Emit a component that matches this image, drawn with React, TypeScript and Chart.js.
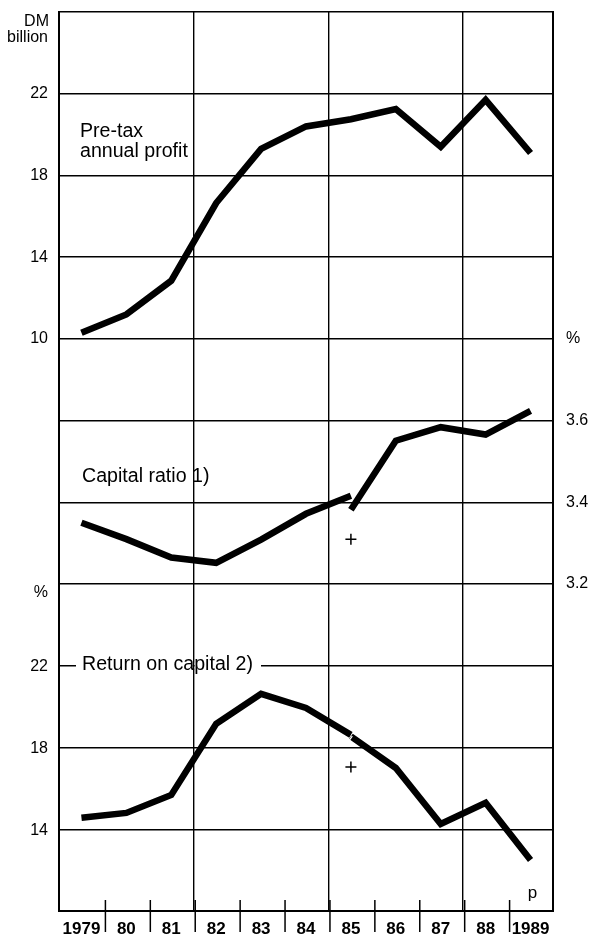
import React, { useEffect, useRef } from "react";
import { Chart, registerables } from "chart.js";

Chart.register(...registerables);

const FONT = '"Liberation Sans", Arial, Helvetica, sans-serif';

// ---- data ----
const years = ["1979", "80", "81", "82", "83", "84", "85", "86", "87", "88", "1989"];
const preTaxProfit = [10.3, 11.2, 12.85, 16.65, 19.3, 20.4, 20.75, 21.25, 19.4, 21.7, 19.1];
const capitalRatioOld = [3.35, 3.31, 3.265, 3.252, 3.309, 3.372, 3.416]; // 1979-1985
const capitalRatioNew = [3.382, 3.551, 3.584, 3.566, 3.624]; // 1985-1989
const returnOld = [14.56, 14.8, 15.68, 19.16, 20.63, 19.94, 18.62]; // 1979-1985
const returnNew = [18.55, 17.0, 14.26, 15.3, 12.5]; // 1985-1989
const crossCapital = 3.31; // 1985, old definition
const crossReturn = 17.05; // 1985, old definition
const crossYear = "85";

const profitTicks = [10, 14, 18, 22];
const capitalTicks = [3.2, 3.4, 3.6];
const capitalUnitTick = 3.8;
const returnTicks = [14, 18, 22];
const returnUnitTick = 26;

function place(values: number[], startIndex: number): (number | null)[] {
  const out: (number | null)[] = years.map(() => null);
  values.forEach((v, i) => (out[startIndex + i] = v));
  return out;
}

function zeroPad(s: any) {
  s.paddingTop = 0;
  s.paddingBottom = 0;
  s.paddingLeft = 0;
  s.paddingRight = 0;
}

export default function App() {
  const ref = useRef<HTMLCanvasElement | null>(null);

  useEffect(() => {
    if (!ref.current) return;
    const crossIdx = years.indexOf(crossYear);
    const newStart = years.length - capitalRatioNew.length;
    const retNewStart = years.length - returnNew.length;

    const overlay = {
      id: "overlay",
      afterDraw(chart: any) {
        const { ctx, chartArea, scales } = chart;
        const x = scales.x;
        const yR = scales.yR;
        ctx.save();
        // bottom tick marks at every year boundary
        ctx.strokeStyle = "#000";
        ctx.lineWidth = 1.5;
        for (let i = 1; i < years.length; i++) {
          const px = (x.getPixelForValue(i - 1) + x.getPixelForValue(i)) / 2 + 1.5;
          ctx.beginPath();
          ctx.moveTo(px, chartArea.bottom - 11);
          ctx.lineTo(px, chartArea.bottom + 21);
          ctx.stroke();
        }
        // white slit in return line at 1985
        {
          const i0 = years.length - returnNew.length;
          const p0x = x.getPixelForValue(i0);
          const p0y = yR.getPixelForValue(returnNew[0]);
          const p1x = x.getPixelForValue(i0 + 1);
          const p1y = yR.getPixelForValue(returnNew[1]);
          const len = Math.hypot(p1x - p0x, p1y - p0y);
          const dx = (p1x - p0x) / len;
          const dy = (p1y - p0y) / len;
          const cx = p0x + dx * 1;
          const cy = p0y + dy * 1;
          ctx.strokeStyle = "#fff";
          ctx.lineWidth = 1.3;
          ctx.beginPath();
          ctx.moveTo(cx - dy * 5, cy + dx * 5);
          ctx.lineTo(cx + dy * 1, cy - dx * 1);
          ctx.stroke();
        }
        // white background behind "Return on capital 2)" over gridline
        const gx = (x.getPixelForValue(2) + x.getPixelForValue(3)) / 2;
        const ly = yR.getPixelForValue(22);
        ctx.fillStyle = "#fff";
        ctx.fillRect(76, ly - 3, gx - 1 - 76, 6);
        ctx.fillRect(gx + 1, ly - 3, 261 - gx - 1, 6);

        ctx.fillStyle = "#000";
        ctx.textBaseline = "alphabetic";
        ctx.textAlign = "left";
        ctx.font = `19.6px ${FONT}`;
        ctx.fillText("Pre-tax", 80, 137);
        ctx.fillText("annual profit", 80, 157);
        ctx.fillText("Capital ratio 1)", 82, 482);
        ctx.fillText("Return on capital 2)", 82, 670);

        ctx.font = `17px ${FONT}`;
        ctx.textAlign = "center";
        ctx.fillText("p", x.getPixelForValue(years.length - 1) + 2, 898);

        // left-side labels
        ctx.font = `16px ${FONT}`;
        ctx.textAlign = "right";
        ctx.textBaseline = "middle";
        ctx.fillText("DM", 49, 22);
        ctx.fillText("billion", 48, 38);
        returnTicks.forEach((v) => {
          ctx.fillText(String(v), 48, yR.getPixelForValue(v) + 1);
        });
        ctx.fillText("%", 48, yR.getPixelForValue(returnUnitTick) + 9);
        ctx.restore();
      },
    };

    const chart = new Chart(ref.current, {
      type: "line",
      data: {
        labels: years,
        datasets: [
          {
            data: preTaxProfit,
            yAxisID: "yP",
          },
          { data: place(capitalRatioOld, 0), yAxisID: "yC" },
          { data: place(capitalRatioNew, newStart), yAxisID: "yC" },
          { data: place(returnOld, 0), yAxisID: "yR" },
          { data: place(returnNew, retNewStart), yAxisID: "yR" },
          {
            data: place([crossCapital], crossIdx),
            yAxisID: "yC",
            showLine: false,
            pointStyle: "cross",
            pointRadius: 5.5,
            pointBorderWidth: 1.5,
            pointBorderColor: "#000",
          },
          {
            data: place([crossReturn], crossIdx),
            yAxisID: "yR",
            showLine: false,
            pointStyle: "cross",
            pointRadius: 5.5,
            pointBorderWidth: 1.5,
            pointBorderColor: "#000",
          },
        ].map((d: any) => ({
          borderColor: "#000",
          borderWidth: 6.5,
          borderCapStyle: "butt",
          borderJoinStyle: "miter",
          pointRadius: 0,
          tension: 0,
          spanGaps: false,
          ...d,
        })),
      },
      options: {
        animation: false,
        responsive: false,
        devicePixelRatio: 1,
        layout: { padding: { left: 0, right: 0, top: 12, bottom: 0 } },
        plugins: {
          legend: { display: false },
          tooltip: { enabled: false },
        },
        scales: {
          x: {
            type: "category",
            offset: true,
            grid: {
              offset: true,
              drawTicks: false,
              lineWidth: 1.4,
              color: (c: any) =>
                c.index % 3 === 0 && c.index > 0 && c.index < years.length ? "#000" : "rgba(0,0,0,0)",
            },
            border: { display: true, color: "#000", width: 2 },
            ticks: {
              color: "#000",
              font: { family: FONT, size: 17, weight: "bold" },
              padding: 8,
              autoSkip: false,
              maxRotation: 0,
            },
            afterFit: (s: any) => {
              s.height = 27;
              zeroPad(s);
            },
          },
          yP: {
            type: "linear",
            position: "left",
            min: -18,
            max: 26,
            ticks: {
              stepSize: 4,
              color: "#000",
              padding: 11,
              font: { family: FONT, size: 16 },
              callback: (v: any) => (profitTicks.includes(Math.round(Number(v))) ? String(v) : ""),
            },
            grid: { color: "#000", lineWidth: 1.4, drawTicks: false },
            border: { display: true, color: "#000", width: 2 },
            afterFit: (s: any) => {
              s.width = 59;
              zeroPad(s);
            },
          },
          yC: {
            type: "linear",
            position: "right",
            min: 2.4,
            max: 4.6,
            ticks: {
              stepSize: 0.2,
              color: "#000",
              padding: 13,
              font: { family: FONT, size: 16 },
              callback: (v: any) => {
                const r = Math.round(Number(v) * 10) / 10;
                if (Math.abs(r - capitalUnitTick) < 1e-6) return "%";
                return capitalTicks.some((t) => Math.abs(t - r) < 1e-6) ? r.toFixed(1) : "";
              },
            },
            grid: { display: false, drawTicks: false },
            border: { display: true, color: "#000", width: 2 },
            afterFit: (s: any) => {
              s.width = 38;
              zeroPad(s);
            },
          },
          yR: {
            type: "linear",
            display: false,
            min: 10,
            max: 54,
          },
        },
      },
      plugins: [overlay],
    } as any);

    return () => chart.destroy();
  }, []);

  return (
    <div style={{ position: "fixed", left: 0, top: 0, width: 591, height: 938, background: "#fff" }}>
      <canvas ref={ref} width={591} height={938} style={{ display: "block", width: 591, height: 938 }} />
    </div>
  );
}
